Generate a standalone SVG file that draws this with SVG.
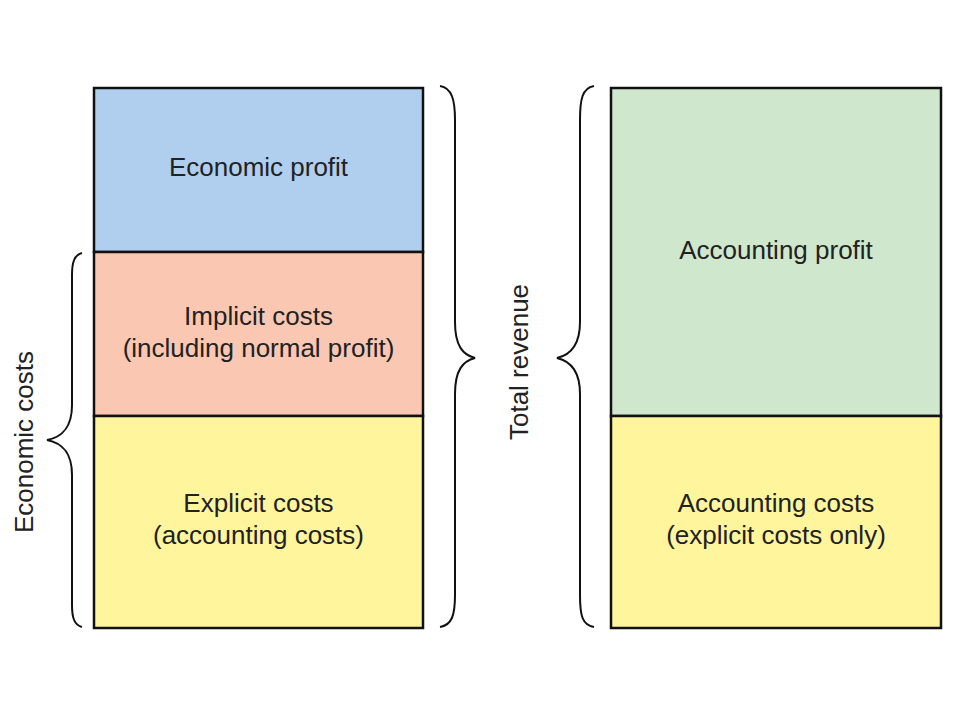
<svg xmlns="http://www.w3.org/2000/svg" width="960" height="720" viewBox="0 0 960 720">
<style>
.box{stroke:#111;stroke-width:2.5}
.lbl{font-family:"Liberation Sans",Arial,sans-serif;font-size:26px;fill:#222;text-anchor:middle}
.brace{fill:none;stroke:#111;stroke-width:2}
</style>
<rect width="960" height="720" fill="#fff"/>
<g id="economic-profit">
<rect class="box" x="94" y="88" width="329" height="164" fill="#B0CFEE"/>
<text class="lbl" x="258.5" y="176">Economic profit</text>
</g>
<g id="implicit-costs">
<rect class="box" x="94" y="252" width="329" height="164" fill="#FAC8B2"/>
<text class="lbl" x="258.5" y="325">Implicit costs</text>
<text class="lbl" x="258.5" y="357">(including normal profit)</text>
</g>
<g id="explicit-costs">
<rect class="box" x="94" y="416" width="329" height="212" fill="#FFF59D"/>
<text class="lbl" x="258.5" y="512">Explicit costs</text>
<text class="lbl" x="258.5" y="544">(accounting costs)</text>
</g>
<g id="accounting-profit">
<rect class="box" x="611" y="88" width="330" height="328" fill="#CFE7CD"/>
<text class="lbl" x="776" y="259">Accounting profit</text>
</g>
<g id="accounting-costs">
<rect class="box" x="611" y="416" width="330" height="212" fill="#FFF59D"/>
<text class="lbl" x="776" y="512">Accounting costs</text>
<text class="lbl" x="776" y="544">(explicit costs only)</text>
</g>
<g id="connectors">
<path class="brace" d="M82,253 C74,255 72,263 72,275 L72,405 C72,428 62,437 47,440 C62,443 72,452 72,475 L72,605 C72,617 74,625 82,627"/>
<path class="brace" d="M440,86 C452,88 455,100 455,120 L455,322 C455,346 463,355 475,358 C463,361 455,370 455,394 L455,595 C455,615 452,625 440,627"/>
<path class="brace" d="M594,86 C582,88 580,100 580,120 L580,322 C580,346 570,355 557,358 C570,361 580,370 580,394 L580,595 C580,615 582,625 594,627"/>
</g>
<g id="economic-costs-label">
<text class="lbl" transform="translate(33,442) rotate(-90)">Economic costs</text>
</g>
<g id="total-revenue-label">
<text class="lbl" transform="translate(528,362) rotate(-90)">Total revenue</text>
</g>
</svg>
